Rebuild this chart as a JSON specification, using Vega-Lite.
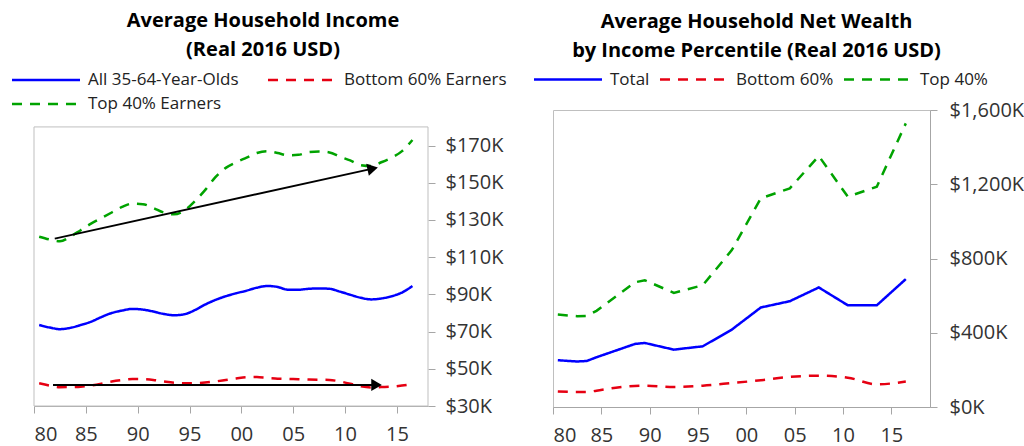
{
  "$schema": "https://vega.github.io/schema/vega-lite/v6.json",
  "background": "white",
  "padding": {"left": 33, "top": 11, "right": 0, "bottom": 0},
  "spacing": 45,
  "resolve": {"scale": {"color": "independent", "strokeDash": "independent", "x": "independent", "y": "independent"}, "legend": {"color": "independent", "strokeDash": "independent"}},
  "config": {
    "font": "Open Sans",
    "view": {"stroke": "#BFBFBF", "strokeWidth": 1},
    "axis": {"grid": false, "domainColor": "#A6A6A6", "tickColor": "#A6A6A6", "labelColor": "#333333", "labelFontSize": 20, "labelFont": "Open Sans", "tickSize": 7, "title": null},
    "title": {"font": "Open Sans", "fontSize": 20, "fontWeight": "bold", "color": "#000000", "anchor": "middle", "lineHeight": 28.5},
    "legend": {"symbolType": "M-3,0L3,0", "symbolSize": 514, "symbolStrokeWidth": 2.5, "labelFontSize": 17, "labelFont": "Open Sans", "labelColor": "#222222", "labelOffset": 29, "labelLimit": 400, "padding": 0, "title": null}
  },
  "datasets": {
    "income": [
      {"date":"1980-07-01","series":"All 35-64-Year-Olds","value":73.5},
      {"date":"1981-07-01","series":"All 35-64-Year-Olds","value":72.2},
      {"date":"1982-07-01","series":"All 35-64-Year-Olds","value":71.3},
      {"date":"1983-07-01","series":"All 35-64-Year-Olds","value":72.0},
      {"date":"1984-07-01","series":"All 35-64-Year-Olds","value":73.5},
      {"date":"1985-07-01","series":"All 35-64-Year-Olds","value":75.3},
      {"date":"1986-07-01","series":"All 35-64-Year-Olds","value":77.8},
      {"date":"1987-07-01","series":"All 35-64-Year-Olds","value":80.0},
      {"date":"1988-07-01","series":"All 35-64-Year-Olds","value":81.3},
      {"date":"1989-07-01","series":"All 35-64-Year-Olds","value":82.2},
      {"date":"1990-07-01","series":"All 35-64-Year-Olds","value":81.8},
      {"date":"1991-07-01","series":"All 35-64-Year-Olds","value":80.8},
      {"date":"1992-07-01","series":"All 35-64-Year-Olds","value":79.5},
      {"date":"1993-07-01","series":"All 35-64-Year-Olds","value":78.8},
      {"date":"1994-07-01","series":"All 35-64-Year-Olds","value":79.3},
      {"date":"1995-07-01","series":"All 35-64-Year-Olds","value":81.5},
      {"date":"1996-07-01","series":"All 35-64-Year-Olds","value":84.5},
      {"date":"1997-07-01","series":"All 35-64-Year-Olds","value":87.0},
      {"date":"1998-07-01","series":"All 35-64-Year-Olds","value":89.0},
      {"date":"1999-07-01","series":"All 35-64-Year-Olds","value":90.6},
      {"date":"2000-07-01","series":"All 35-64-Year-Olds","value":92.0},
      {"date":"2001-07-01","series":"All 35-64-Year-Olds","value":93.6},
      {"date":"2002-07-01","series":"All 35-64-Year-Olds","value":94.5},
      {"date":"2003-07-01","series":"All 35-64-Year-Olds","value":94.0},
      {"date":"2004-07-01","series":"All 35-64-Year-Olds","value":92.5},
      {"date":"2005-07-01","series":"All 35-64-Year-Olds","value":92.5},
      {"date":"2006-07-01","series":"All 35-64-Year-Olds","value":93.0},
      {"date":"2007-07-01","series":"All 35-64-Year-Olds","value":93.2},
      {"date":"2008-07-01","series":"All 35-64-Year-Olds","value":93.0},
      {"date":"2009-07-01","series":"All 35-64-Year-Olds","value":91.5},
      {"date":"2010-07-01","series":"All 35-64-Year-Olds","value":89.8},
      {"date":"2011-07-01","series":"All 35-64-Year-Olds","value":88.2},
      {"date":"2012-07-01","series":"All 35-64-Year-Olds","value":87.3},
      {"date":"2013-07-01","series":"All 35-64-Year-Olds","value":87.8},
      {"date":"2014-07-01","series":"All 35-64-Year-Olds","value":89.0},
      {"date":"2015-07-01","series":"All 35-64-Year-Olds","value":91.0},
      {"date":"2016-07-01","series":"All 35-64-Year-Olds","value":94.5},
      {"date":"1980-07-01","series":"Bottom 60% Earners","value":42.2},
      {"date":"1981-07-01","series":"Bottom 60% Earners","value":41.0},
      {"date":"1982-07-01","series":"Bottom 60% Earners","value":40.1},
      {"date":"1983-07-01","series":"Bottom 60% Earners","value":40.2},
      {"date":"1984-07-01","series":"Bottom 60% Earners","value":40.4},
      {"date":"1985-07-01","series":"Bottom 60% Earners","value":41.0},
      {"date":"1986-07-01","series":"Bottom 60% Earners","value":42.0},
      {"date":"1987-07-01","series":"Bottom 60% Earners","value":43.2},
      {"date":"1988-07-01","series":"Bottom 60% Earners","value":44.0},
      {"date":"1989-07-01","series":"Bottom 60% Earners","value":44.5},
      {"date":"1990-07-01","series":"Bottom 60% Earners","value":44.4},
      {"date":"1991-07-01","series":"Bottom 60% Earners","value":44.0},
      {"date":"1992-07-01","series":"Bottom 60% Earners","value":43.2},
      {"date":"1993-07-01","series":"Bottom 60% Earners","value":42.5},
      {"date":"1994-07-01","series":"Bottom 60% Earners","value":42.2},
      {"date":"1995-07-01","series":"Bottom 60% Earners","value":42.3},
      {"date":"1996-07-01","series":"Bottom 60% Earners","value":42.6},
      {"date":"1997-07-01","series":"Bottom 60% Earners","value":43.2},
      {"date":"1998-07-01","series":"Bottom 60% Earners","value":44.0},
      {"date":"1999-07-01","series":"Bottom 60% Earners","value":44.8},
      {"date":"2000-07-01","series":"Bottom 60% Earners","value":45.5},
      {"date":"2001-07-01","series":"Bottom 60% Earners","value":45.6},
      {"date":"2002-07-01","series":"Bottom 60% Earners","value":45.0},
      {"date":"2003-07-01","series":"Bottom 60% Earners","value":44.7},
      {"date":"2004-07-01","series":"Bottom 60% Earners","value":44.5},
      {"date":"2005-07-01","series":"Bottom 60% Earners","value":44.4},
      {"date":"2006-07-01","series":"Bottom 60% Earners","value":44.2},
      {"date":"2007-07-01","series":"Bottom 60% Earners","value":44.1},
      {"date":"2008-07-01","series":"Bottom 60% Earners","value":44.0},
      {"date":"2009-07-01","series":"Bottom 60% Earners","value":43.2},
      {"date":"2010-07-01","series":"Bottom 60% Earners","value":42.0},
      {"date":"2011-07-01","series":"Bottom 60% Earners","value":40.6},
      {"date":"2012-07-01","series":"Bottom 60% Earners","value":40.0},
      {"date":"2013-07-01","series":"Bottom 60% Earners","value":40.2},
      {"date":"2014-07-01","series":"Bottom 60% Earners","value":40.4},
      {"date":"2015-07-01","series":"Bottom 60% Earners","value":41.0},
      {"date":"2016-07-01","series":"Bottom 60% Earners","value":41.8},
      {"date":"1980-07-01","series":"Top 40% Earners","value":121.0},
      {"date":"1981-07-01","series":"Top 40% Earners","value":119.5},
      {"date":"1982-07-01","series":"Top 40% Earners","value":118.5},
      {"date":"1983-07-01","series":"Top 40% Earners","value":121.0},
      {"date":"1984-07-01","series":"Top 40% Earners","value":124.5},
      {"date":"1985-07-01","series":"Top 40% Earners","value":128.0},
      {"date":"1986-07-01","series":"Top 40% Earners","value":131.0},
      {"date":"1987-07-01","series":"Top 40% Earners","value":134.0},
      {"date":"1988-07-01","series":"Top 40% Earners","value":137.0},
      {"date":"1989-07-01","series":"Top 40% Earners","value":138.8},
      {"date":"1990-07-01","series":"Top 40% Earners","value":138.5},
      {"date":"1991-07-01","series":"Top 40% Earners","value":136.5},
      {"date":"1992-07-01","series":"Top 40% Earners","value":134.0},
      {"date":"1993-07-01","series":"Top 40% Earners","value":133.0},
      {"date":"1994-07-01","series":"Top 40% Earners","value":135.0},
      {"date":"1995-07-01","series":"Top 40% Earners","value":140.0},
      {"date":"1996-07-01","series":"Top 40% Earners","value":146.0},
      {"date":"1997-07-01","series":"Top 40% Earners","value":153.0},
      {"date":"1998-07-01","series":"Top 40% Earners","value":158.0},
      {"date":"1999-07-01","series":"Top 40% Earners","value":161.0},
      {"date":"2000-07-01","series":"Top 40% Earners","value":163.5},
      {"date":"2001-07-01","series":"Top 40% Earners","value":166.0},
      {"date":"2002-07-01","series":"Top 40% Earners","value":167.0},
      {"date":"2003-07-01","series":"Top 40% Earners","value":166.0},
      {"date":"2004-07-01","series":"Top 40% Earners","value":164.8},
      {"date":"2005-07-01","series":"Top 40% Earners","value":165.0},
      {"date":"2006-07-01","series":"Top 40% Earners","value":166.5},
      {"date":"2007-07-01","series":"Top 40% Earners","value":166.8},
      {"date":"2008-07-01","series":"Top 40% Earners","value":166.3},
      {"date":"2009-07-01","series":"Top 40% Earners","value":164.0},
      {"date":"2010-07-01","series":"Top 40% Earners","value":162.0},
      {"date":"2011-07-01","series":"Top 40% Earners","value":159.5},
      {"date":"2012-07-01","series":"Top 40% Earners","value":159.0},
      {"date":"2013-07-01","series":"Top 40% Earners","value":161.0},
      {"date":"2014-07-01","series":"Top 40% Earners","value":163.5},
      {"date":"2015-07-01","series":"Top 40% Earners","value":167.0},
      {"date":"2016-07-01","series":"Top 40% Earners","value":173.0}
    ],
    "arrows": [
      {"arrow":"top","start":"1982-01-01","end":"2012-09-01","from":120,"to":157.6},
      {"arrow":"bottom","start":"1981-11-01","end":"2013-01-15","from":41.3,"to":41.3}
    ],
    "wealth": [
      {"date":"1980-07-01","series":"Total","value":252},
      {"date":"1982-07-01","series":"Total","value":245},
      {"date":"1983-07-01","series":"Total","value":248},
      {"date":"1984-07-01","series":"Total","value":268},
      {"date":"1988-07-01","series":"Total","value":340},
      {"date":"1989-07-01","series":"Total","value":345},
      {"date":"1992-07-01","series":"Total","value":309},
      {"date":"1995-07-01","series":"Total","value":327},
      {"date":"1998-07-01","series":"Total","value":417},
      {"date":"2001-07-01","series":"Total","value":536},
      {"date":"2004-07-01","series":"Total","value":570},
      {"date":"2007-07-01","series":"Total","value":644},
      {"date":"2010-07-01","series":"Total","value":548},
      {"date":"2013-07-01","series":"Total","value":548},
      {"date":"2016-07-01","series":"Total","value":689},
      {"date":"1980-07-01","series":"Top 40%","value":498},
      {"date":"1982-07-01","series":"Top 40%","value":489},
      {"date":"1983-07-01","series":"Top 40%","value":491},
      {"date":"1984-07-01","series":"Top 40%","value":518},
      {"date":"1988-07-01","series":"Top 40%","value":672},
      {"date":"1989-07-01","series":"Top 40%","value":683},
      {"date":"1992-07-01","series":"Top 40%","value":615},
      {"date":"1995-07-01","series":"Top 40%","value":656},
      {"date":"1998-07-01","series":"Top 40%","value":845},
      {"date":"2001-07-01","series":"Top 40%","value":1124},
      {"date":"2004-07-01","series":"Top 40%","value":1178},
      {"date":"2007-07-01","series":"Top 40%","value":1352},
      {"date":"2010-07-01","series":"Top 40%","value":1133},
      {"date":"2013-07-01","series":"Top 40%","value":1187},
      {"date":"2016-07-01","series":"Top 40%","value":1528},
      {"date":"1980-07-01","series":"Bottom 60%","value":84},
      {"date":"1982-07-01","series":"Bottom 60%","value":81},
      {"date":"1983-07-01","series":"Bottom 60%","value":81},
      {"date":"1984-07-01","series":"Bottom 60%","value":88},
      {"date":"1986-07-01","series":"Bottom 60%","value":104},
      {"date":"1989-07-01","series":"Bottom 60%","value":115},
      {"date":"1992-07-01","series":"Bottom 60%","value":108},
      {"date":"1995-07-01","series":"Bottom 60%","value":115},
      {"date":"1998-07-01","series":"Bottom 60%","value":129},
      {"date":"2001-07-01","series":"Bottom 60%","value":144},
      {"date":"2004-07-01","series":"Bottom 60%","value":162},
      {"date":"2007-07-01","series":"Bottom 60%","value":169},
      {"date":"2010-07-01","series":"Bottom 60%","value":158},
      {"date":"2013-07-01","series":"Bottom 60%","value":122},
      {"date":"2016-07-01","series":"Bottom 60%","value":137}
    ]
  },
  "hconcat": [
    {
      "width": 394,
      "height": 296,
      "view": {"stroke": null},
      "title": {"text": ["Average Household Income", "(Real 2016 USD)"], "dx": 32, "offset": 7.5},
      "layer": [
        {
          "data": {"values": [{}]},
          "mark": {"type": "rect", "fill": null, "stroke": "#BFBFBF", "strokeWidth": 1},
          "encoding": {
            "x": {"datum": {"year": 1980, "month": 1, "date": 1}, "type": "temporal",
                  "scale": {"domain": [{"year": 1980, "month": 1, "date": 1}, {"year": 2018, "month": 1, "date": 1}], "nice": false}},
            "x2": {"datum": {"year": 2018, "month": 1, "date": 1}},
            "y": {"datum": 30, "type": "quantitative", "scale": {"domain": [30, 189.1], "nice": false, "zero": false}},
            "y2": {"datum": 180}
          }
        },
        {
          "data": {"name": "income"},
          "mark": {"type": "line", "strokeWidth": 2.5, "interpolate": "monotone"},
          "encoding": {
            "x": {"field": "date", "type": "temporal",
                  "scale": {"domain": [{"year": 1980, "month": 1, "date": 1}, {"year": 2018, "month": 1, "date": 1}], "nice": false},
                  "axis": {"format": "%y", "labelDx": 4, "labelPadding": 11,
                           "values": [{"year": 1980, "month": 1, "date": 1}, {"year": 1985, "month": 1, "date": 1}, {"year": 1990, "month": 1, "date": 1}, {"year": 1995, "month": 1, "date": 1}, {"year": 2000, "month": 1, "date": 1}, {"year": 2005, "month": 1, "date": 1}, {"year": 2010, "month": 1, "date": 1}, {"year": 2015, "month": 1, "date": 1}]}},
            "y": {"field": "value", "type": "quantitative",
                  "scale": {"domain": [30, 189.1], "nice": false, "zero": false},
                  "axis": {"orient": "right", "domain": false, "values": [30, 50, 70, 90, 110, 130, 150, 170], "labelExpr": "'$' + datum.value + 'K'", "labelPadding": 10}},
            "color": {"field": "series", "type": "nominal",
                      "scale": {"domain": ["All 35-64-Year-Olds", "Bottom 60% Earners", "Top 40% Earners"], "range": ["#0000FF", "#E60012", "#00A300"]},
                      "legend": {"orient": "none", "legendX": -1, "legendY": -43, "direction": "horizontal", "columns": 2, "columnPadding": 23, "rowPadding": 3}},
            "strokeDash": {"field": "series", "type": "nominal",
                      "scale": {"domain": ["All 35-64-Year-Olds", "Bottom 60% Earners", "Top 40% Earners"], "range": [[1, 0], [10, 8], [10, 8]]},
                      "legend": {"orient": "none", "legendX": -1, "legendY": -43, "direction": "horizontal", "columns": 2, "columnPadding": 23, "rowPadding": 3}}
          }
        },
        {
          "data": {"name": "arrows"},
          "mark": {"type": "rule", "color": "#000000", "strokeWidth": 1.8},
          "encoding": {
            "x": {"field": "start", "type": "temporal",
                  "scale": {"domain": [{"year": 1980, "month": 1, "date": 1}, {"year": 2018, "month": 1, "date": 1}], "nice": false}},
            "x2": {"field": "end"},
            "y": {"field": "from", "type": "quantitative", "scale": {"domain": [30, 189.1], "nice": false, "zero": false}},
            "y2": {"field": "to"}
          }
        },
        {
          "data": {"name": "arrows"},
          "transform": [{"filter": "datum.arrow == 'top'"}],
          "mark": {"type": "point", "shape": "triangle-right", "filled": true, "color": "#000000", "opacity": 1, "size": 150, "angle": 347.6},
          "encoding": {
            "x": {"field": "end", "type": "temporal",
                  "scale": {"domain": [{"year": 1980, "month": 1, "date": 1}, {"year": 2018, "month": 1, "date": 1}], "nice": false}},
            "y": {"field": "to", "type": "quantitative", "scale": {"domain": [30, 189.1], "nice": false, "zero": false}}
          }
        },
        {
          "data": {"name": "arrows"},
          "transform": [{"filter": "datum.arrow == 'bottom'"}],
          "mark": {"type": "point", "shape": "triangle-right", "filled": true, "color": "#000000", "opacity": 1, "size": 150},
          "encoding": {
            "x": {"field": "end", "type": "temporal",
                  "scale": {"domain": [{"year": 1980, "month": 1, "date": 1}, {"year": 2018, "month": 1, "date": 1}], "nice": false}},
            "y": {"field": "to", "type": "quantitative", "scale": {"domain": [30, 189.1], "nice": false, "zero": false}}
          }
        }
      ]
    },
    {
      "width": 377,
      "height": 297,
      "title": {"text": ["Average Household Net Wealth", "by Income Percentile (Real 2016 USD)"], "dx": 15, "offset": 6},
      "data": {"name": "wealth"},
      "encoding": {
        "x": {"field": "date", "type": "temporal",
              "scale": {"domain": [{"year": 1980, "month": 1, "date": 1}, {"year": 2019, "month": 1, "date": 1}]},
              "axis": {"format": "%y", "labelDx": 4, "labelPadding": 11,
                       "values": [{"year": 1980, "month": 1, "date": 1}, {"year": 1985, "month": 1, "date": 1}, {"year": 1990, "month": 1, "date": 1}, {"year": 1995, "month": 1, "date": 1}, {"year": 2000, "month": 1, "date": 1}, {"year": 2005, "month": 1, "date": 1}, {"year": 2010, "month": 1, "date": 1}, {"year": 2015, "month": 1, "date": 1}]}},
        "y": {"field": "value", "type": "quantitative",
              "scale": {"domain": [0, 1600]},
              "axis": {"orient": "right", "values": [0, 400, 800, 1200, 1600], "labelExpr": "'$' + format(datum.value, ',') + 'K'", "labelPadding": 12}},
        "color": {"field": "series", "type": "nominal",
                  "scale": {"domain": ["Total", "Bottom 60%", "Top 40%"], "range": ["#0000FF", "#E60012", "#00A300"]},
                  "legend": {"orient": "none", "legendX": 2, "legendY": -43.5, "direction": "horizontal", "columns": 3, "columnPadding": 4}},
        "strokeDash": {"field": "series", "type": "nominal",
                  "scale": {"domain": ["Total", "Bottom 60%", "Top 40%"], "range": [[1, 0], [10, 8], [10, 8]]},
                  "legend": {"orient": "none", "legendX": 2, "legendY": -43.5, "direction": "horizontal", "columns": 3, "columnPadding": 4}}
      },
      "layer": [
        {
          "transform": [{"filter": "datum.series != 'Bottom 60%'"}],
          "mark": {"type": "line", "strokeWidth": 2.5}
        },
        {
          "transform": [{"filter": "datum.series == 'Bottom 60%'"}],
          "mark": {"type": "line", "strokeWidth": 2.5, "interpolate": "monotone"}
        }
      ]
    }
  ]
}
